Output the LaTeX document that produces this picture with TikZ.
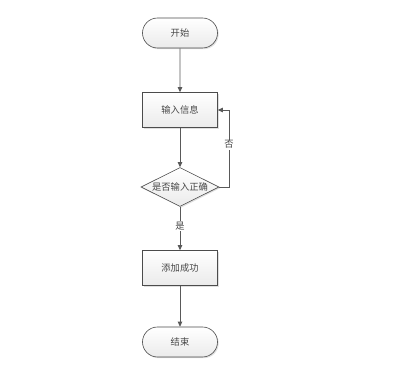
\documentclass[tikz,border=0pt]{standalone}
\usepackage{fontspec}
\setmainfont{Noto Sans CJK SC}
\usetikzlibrary{shapes.geometric,shapes.misc,arrows.meta,shadows}
\begin{document}
\begin{tikzpicture}[x=1pt,y=-1pt,
  every node/.style={font=\fontsize{9.3}{11}\selectfont, text=black!72},
  base/.style={draw=black!70, line width=0.6pt, top color=white, bottom color=black!8,
     drop shadow={shadow xshift=1.2pt, shadow yshift=-1.2pt, fill=black!25}},
  term/.style={base, rounded rectangle, minimum width=75pt, minimum height=30pt, inner sep=0pt},
  procbox/.style={base, rectangle, minimum width=75pt, minimum height=35pt, inner sep=0pt},
  decide/.style={base, diamond, aspect=2, minimum width=78pt, minimum height=39pt, inner sep=0pt},
  conn/.style={draw=black!65, line width=0.7pt, -{Triangle[length=5pt,width=4.5pt]}},
  lbl/.style={fill=white, inner sep=1pt}]
\useasboundingbox (0,0) rectangle (413,366);
\node[term] (start) at (180,33) {开始};
\node[procbox] (input) at (180,110) {输入信息};
\node[decide] (check) at (180,187) {\makebox[0pt]{是否输入正确}};
\node[procbox] (add) at (180,268) {添加成功};
\node[term] (end) at (180,342) {结束};
\coordinate (c1) at (229,187);
\coordinate (c2) at (229,110);
\draw[conn] (start) -- (input);
\draw[conn] (input) -- (check);
\draw[conn] (check) -- node[lbl, pos=0.45] {是} (add);
\draw[conn] (add) -- (end);
\draw[conn] (check.east) -- (c1) -- node[lbl, pos=0.55] {否} (c2) -- (input.east);
\end{tikzpicture}
\end{document}
